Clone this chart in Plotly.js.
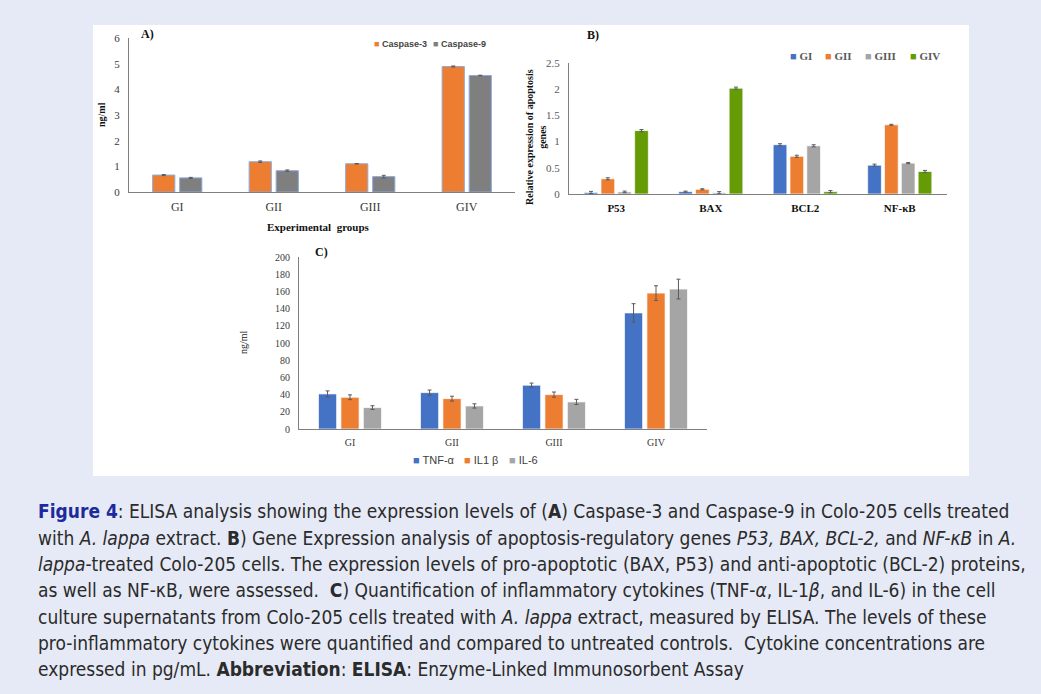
<!DOCTYPE html>
<html><head><meta charset="utf-8">
<script src="https://cdn.plot.ly/plotly-3.0.1.min.js"></script>
<style>html,body{margin:0;padding:0;background:#e6eaf6;overflow:hidden}</style>
</head><body>
<div id="chart" style="width:1041px;height:694px"></div>
<script>
// ---------- DATA ----------
const groups = ['GI', 'GII', 'GIII', 'GIV'];

// Panel A: Caspases (ng/ml)
const caspaseNames = ['Caspase-3', 'Caspase-9'];
const caspase3 = [0.66, 1.18, 1.10, 4.89];
const caspase3Err = [0.02, 0.03, 0.01, 0.02];
const caspase9 = [0.55, 0.83, 0.60, 4.54];
const caspase9Err = [0.02, 0.03, 0.05, 0.01];

// Panel B: relative gene expression
const genes = ['P53', 'BAX', 'BCL2', 'NF-κB'];
const geneGI = [0.03, 0.045, 0.94, 0.55];
const geneGII = [0.29, 0.09, 0.72, 1.32];
const geneGIII = [0.04, 0.025, 0.92, 0.59];
const geneGIV = [1.21, 2.02, 0.045, 0.43];
const geneErrGI = [0.02, 0.01, 0.02, 0.02];
const geneErrGII = [0.02, 0.01, 0.02, 0.01];
const geneErrGIII = [0.015, 0.02, 0.02, 0.01];
const geneErrGIV = [0.02, 0.02, 0.02, 0.02];

// Panel C: cytokines (ng/ml)
const cytokineNames = ['TNF-α', 'IL1 β', 'IL-6'];
const tnfAlpha = [40.8, 42.3, 50.9, 135.0];
const tnfAlphaErr = [3.5, 3.0, 2.5, 10.7];
const il1Beta = [36.9, 35.3, 40.0, 158.0];
const il1BetaErr = [2.8, 2.8, 3.0, 8.5];
const il6 = [24.9, 26.8, 31.5, 162.7];
const il6Err = [2.2, 2.5, 3.0, 11.5];

// ---------- STYLE ----------
const W = 1041, H = 694;
const px = v => v / W;
const py = v => 1 - v / H;
const SERIF = 'Liberation Serif, Times New Roman, serif';
const SANS = 'Liberation Sans, Arial, sans-serif';
const NARROW = 'Liberation Sans Narrow, DejaVu Sans Condensed, Arial Narrow, sans-serif';
const AXC = '#7f7f7f';
const TICKC = '#3a3a3a';
const errStyle = {type: 'data', visible: true, color: '#5a5a5a', thickness: 1, width: 2};

function bars(x, y, err, name, color, xa, ya, width, offset, line) {
  return {
    type: 'bar', x: x, y: y, name: name, xaxis: xa, yaxis: ya,
    width: width, offset: offset, showlegend: false,
    marker: {color: color, line: line},
    error_y: Object.assign({array: err}, errStyle),
    hoverinfo: 'x+y+name'
  };
}

const traces = [];
// A
const aLine = {color: '#8faadc', width: 1};
const aColors = ['#ed7d31', '#7f7f7f'];
traces.push(bars(groups, caspase3, caspase3Err, caspaseNames[0], aColors[0], 'x', 'y', 0.23, -0.255, aLine));
traces.push(bars(groups, caspase9, caspase9Err, caspaseNames[1], aColors[1], 'x', 'y', 0.23, 0.025, aLine));
// B
const bColors = ['#4472c4', '#ed7d31', '#a5a5a5', '#659c05'];
const bVals = [geneGI, geneGII, geneGIII, geneGIV];
const bErrs = [geneErrGI, geneErrGII, geneErrGIII, geneErrGIV];
const bSlot = 0.178, bW = 0.145;
const bcLine = {color: 'rgba(255,255,255,0.7)', width: 1};
for (let i = 0; i < 4; i++) {
  traces.push(bars(genes, bVals[i], bErrs[i], groups[i], bColors[i], 'x2', 'y2', bW, -2 * bSlot + i * bSlot + (bSlot - bW) / 2, bcLine));
}
// C
const cColors = ['#4472c4', '#ed7d31', '#a5a5a5'];
const cVals = [tnfAlpha, il1Beta, il6];
const cErrs = [tnfAlphaErr, il1BetaErr, il6Err];
const cSlot = 0.22, cW = 0.178;
for (let i = 0; i < 3; i++) {
  traces.push(bars(groups, cVals[i], cErrs[i], cytokineNames[i], cColors[i], 'x3', 'y3', cW, -1.5 * cSlot + i * cSlot + (cSlot - cW) / 2, bcLine));
}

function xAxis(domain, anchor, font) {
  return {domain: domain, anchor: anchor, type: 'category', showline: true, linecolor: AXC, linewidth: 1,
    ticks: '', showgrid: false, zeroline: false, tickfont: font, fixedrange: true, ticklabelstandoff: 4};
}
function yAxis(domain, anchor, range, dtick, font) {
  return {domain: domain, anchor: anchor, range: range, dtick: dtick, showline: true, linecolor: AXC, linewidth: 1,
    ticks: '', showgrid: false, zeroline: false, tickfont: font, fixedrange: true, ticklabelstandoff: 6};
}

const annotations = [];
function ann(text, x, y, opts) {
  annotations.push(Object.assign({text: text, x: x, y: y, xref: 'paper', yref: 'paper', showarrow: false,
    xanchor: 'left', yanchor: 'middle'}, opts));
}
// panel labels
ann('<b>A)</b>', px(139), py(34), {font: {family: SERIF, size: 12, color: '#111'}});
ann('<b>B)</b>', px(585), py(35), {font: {family: SERIF, size: 12, color: '#111'}});
ann('<b>C)</b>', px(313), py(252), {font: {family: SERIF, size: 12, color: '#111'}});
// axis titles
ann('<b>ng/ml</b>', px(101), py(115), {xanchor: 'center', textangle: -90, font: {family: SERIF, size: 10, color: '#111'}});
ann('<b>Experimental  groups</b>', px(318), py(227), {xanchor: 'center', font: {family: SERIF, size: 11, color: '#111'}});
ann('<b>Relative expression of apoptosis<br>genes</b>', px(536), py(137), {xanchor: 'center', textangle: -90, font: {family: SERIF, size: 10, color: '#111'}});
ann('ng/ml', px(243), py(342), {xanchor: 'center', textangle: -90, font: {family: SERIF, size: 10, color: '#222'}});

// legends
const sq = c => '<span style="color:' + c + '">■</span>';
const legA = [372, 431];
caspaseNames.forEach((n, i) => ann(sq(aColors[i]) + ' <b>' + n + '</b>', px(legA[i]), py(44), {font: {family: SANS, size: 9, color: '#444'}}));
const legB = [788, 823, 863, 908];
groups.forEach((n, i) => ann(sq(bColors[i]) + ' <b>' + n + '</b>', px(legB[i]), py(56), {font: {family: SERIF, size: 11, color: '#595959'}}));
const legC = [411, 462, 507];
cytokineNames.forEach((n, i) => ann(sq(cColors[i]) + ' ' + n, px(legC[i]), py(460), {font: {family: SANS, size: 11, color: '#404040'}}));

// caption
const capLines = [
  '<span style="color:#1c2a9c"><b>Figure 4</b></span>: ELISA analysis showing the expression levels of (<b>A</b>) Caspase-3 and Caspase-9 in Colo-205 cells treated',
  'with <i>A. lappa</i> extract. <b>B</b>) Gene Expression analysis of apoptosis-regulatory genes <i>P53, BAX, BCL-2,</i> and <i>NF-κB</i> in <i>A.</i>',
  '<i>lappa</i>-treated Colo-205 cells. The expression levels of pro-apoptotic (BAX, P53) and anti-apoptotic (BCL-2) proteins,',
  'as well as NF-κB, were assessed.  <b>C</b>) Quantification of inflammatory cytokines (TNF-<i>α</i>, IL-1<i>β</i>, and IL-6) in the cell',
  'culture supernatants from Colo-205 cells treated with <i>A. lappa</i> extract, measured by ELISA. The levels of these',
  'pro-inflammatory cytokines were quantified and compared to untreated controls.  Cytokine concentrations are',
  'expressed in pg/mL. <b>Abbreviation</b>: <b>ELISA</b>: Enzyme-Linked Immunosorbent Assay'
];
const capY = [511, 538, 564, 590, 617, 643, 669];
capLines.forEach((t, i) => ann(t, px(36), py(capY[i]), {font: {family: NARROW, size: 19, color: '#2b2b2b'}}));

const layout = {
  width: W, height: H, margin: {l: 0, r: 0, t: 0, b: 0},
  paper_bgcolor: '#e6eaf6', plot_bgcolor: '#ffffff',
  barmode: 'group', showlegend: false,
  shapes: [{type: 'rect', xref: 'paper', yref: 'paper', x0: px(93), x1: px(969), y0: py(476), y1: py(25),
    fillcolor: '#ffffff', line: {width: 0}, layer: 'below'}],
  xaxis: xAxis([px(129), px(515)], 'y', {family: SERIF, size: 12, color: TICKC}),
  yaxis: yAxis([py(192), py(38)], 'x', [0, 6], 1, {family: SERIF, size: 11, color: TICKC}),
  xaxis2: xAxis([px(569), px(947)], 'y2', {family: SERIF, size: 11, color: '#111', weight: 'bold'}),
  yaxis2: yAxis([py(194), py(63)], 'x2', [0, 2.5], 0.5, {family: SERIF, size: 11, color: '#595959'}),
  xaxis3: xAxis([px(299), px(707)], 'y3', {family: SERIF, size: 10, color: TICKC}),
  yaxis3: yAxis([py(429), py(257)], 'x3', [0, 200], 20, {family: SERIF, size: 10, color: TICKC}),
  annotations: annotations
};

Plotly.newPlot('chart', traces, layout, {displayModeBar: false, staticPlot: true});
</script>
</body></html>
